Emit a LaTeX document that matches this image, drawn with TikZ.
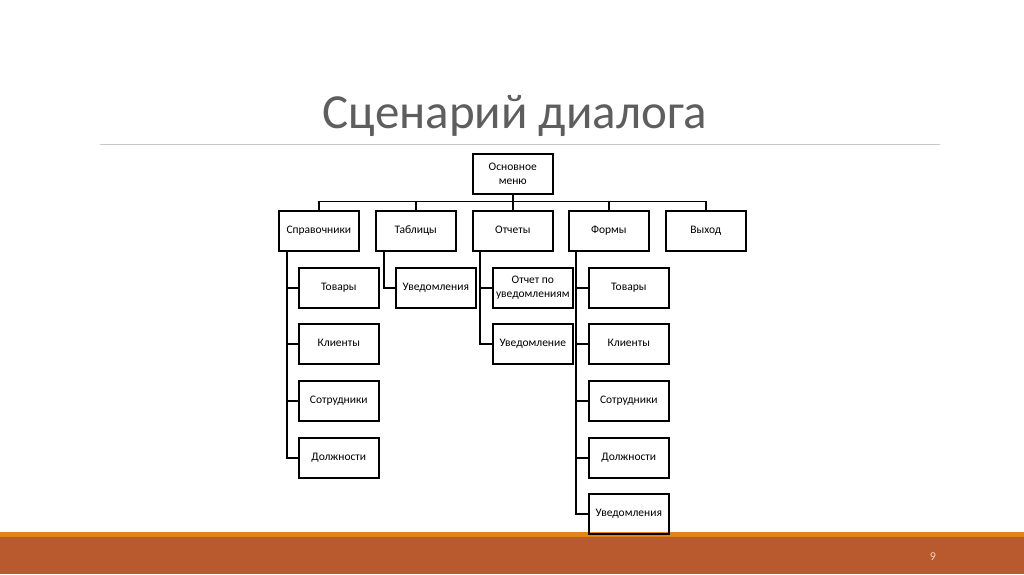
\documentclass[tikz,border=0pt]{standalone}
\usepackage{fontspec}
\setmainfont{Carlito}
\usetikzlibrary{calc}
\definecolor{titlegray}{HTML}{5E5E5E}
\definecolor{rulegray}{HTML}{C8C8C8}
\definecolor{stripeorange}{HTML}{E2841C}
\definecolor{rust}{HTML}{B95A2E}
\definecolor{pagenum}{HTML}{F2D2C2}
\tikzset{
  box/.style={draw=black, line width=1.6pt, minimum width=80pt, minimum height=40pt,
    inner sep=1pt, align=center, font=\fontsize{11.5}{14.5}\selectfont, anchor=north west},
  one/.style={box, text height=8.3pt, text depth=2.6pt},
  link/.style={draw=black, line width=1.6pt},
}
\begin{document}
\begin{tikzpicture}[x=1pt,y=-1pt]
\useasboundingbox (0,0) rectangle (1024,574);
\fill[white] (0,0) rectangle (1024,574);
% title
\node[text=titlegray, font=\fontsize{49}{56}\selectfont, anchor=base] (title) at (515,128) {Сценарий диалога};
\draw[rulegray, line width=1pt] (100,144) -- (940,144);
% footer
\fill[stripeorange] (0,532) rectangle (1024,538);
\fill[rust] (0,537) rectangle (1024,574);
\node[text=pagenum, font=\fontsize{12}{13}\selectfont] (pg) at (933,557) {9};
% top
\node[box] (main) at (472,153) {Основное\\меню};
\node[one] (spr) at (278,210) {Справочники};
\node[one] (tab) at (375,210) {Таблицы};
\node[one] (otc) at (472,210) {Отчеты};
\node[one] (frm) at (568,210) {Формы};
\node[one] (vyh) at (665,210) {Выход};
\foreach \c in {spr,tab,otc,frm,vyh}
  \draw[link] (main.south) -- ++(0,7) -| (\c.north);
% Справочники children
\node[one] (s1) at (298,267) {Товары};
\node[one] (s2) at (298,323) {Клиенты};
\node[one] (s3) at (298,380) {Сотрудники};
\node[one] (s4) at (298,437) {Должности};
\foreach \c in {s1,s2,s3,s4}
  \draw[link] ($(spr.south west)+(9,0)$) |- (\c.west);
% Таблицы children
\node[one] (t1) at (395,267) {Уведомления};
\draw[link] ($(tab.south west)+(9,0)$) |- (t1.west);
% Отчеты children
\node[box] (o1) at (492,267) {Отчет по\\уведомлениям};
\node[one] (o2) at (492,323) {Уведомление};
\foreach \c in {o1,o2}
  \draw[link] ($(otc.south west)+(8,0)$) |- (\c.west);
% Формы children
\node[one] (f1) at (588,267) {Товары};
\node[one] (f2) at (588,323) {Клиенты};
\node[one] (f3) at (588,380) {Сотрудники};
\node[one] (f4) at (588,437) {Должности};
\node[one] (f5) at (588,493) {Уведомления};
\foreach \c in {f1,f2,f3,f4,f5}
  \draw[link] ($(frm.south west)+(8,0)$) |- (\c.west);
\end{tikzpicture}
\end{document}
